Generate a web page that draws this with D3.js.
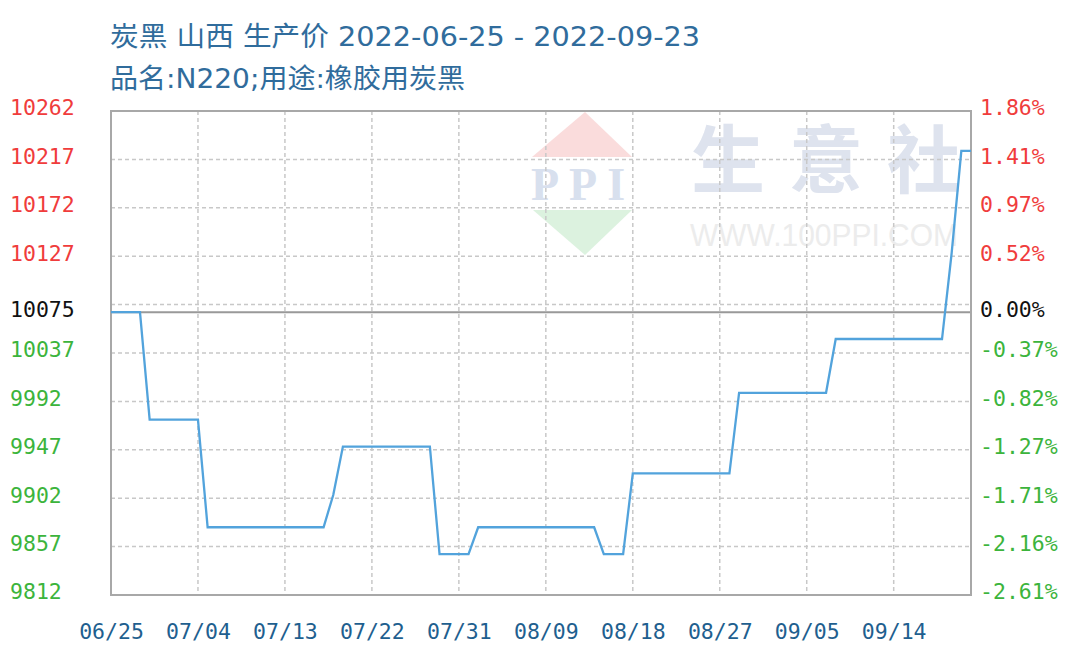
<!DOCTYPE html>
<html>
<head>
<meta charset="utf-8">
<script src="https://cdn.jsdelivr.net/npm/d3@7"></script>
<style>
  body { margin: 0; background: #fff; }
  svg { display: block; }
  .tick text { font-family: "DejaVu Sans Mono", "Liberation Mono", monospace; }
</style>
</head>
<body>
<svg id="chart" width="1080" height="661"></svg>
<script>
// data
var dates = ["2022-06-25","2022-06-28","2022-06-29","2022-07-04","2022-07-05","2022-07-17",
             "2022-07-18","2022-07-19","2022-07-28","2022-07-29","2022-08-01","2022-08-02",
             "2022-08-14","2022-08-15","2022-08-17","2022-08-18","2022-08-28","2022-08-29",
             "2022-09-07","2022-09-08","2022-09-19","2022-09-20","2022-09-21","2022-09-22"];
var prices = [10075,10075,9975,9975,9875,9875,
              9905,9950,9950,9850,9850,9875,
              9875,9850,9850,9925,9925,10000,
              10000,10050,10050,10130,10225,10225];

var basePrice = 10075;
var leftTicks = [10262,10217,10172,10127,10075,10037,9992,9947,9902,9857,9812];
var rightTicks = ["1.86%","1.41%","0.97%","0.52%","0.00%","-0.37%","-0.82%","-1.27%","-1.71%","-2.16%","-2.61%"];
var gridValues = [9857,9902,9947,9992,10037,10082,10127,10172,10217];
var xTickDates = ["2022-06-25","2022-07-04","2022-07-13","2022-07-22","2022-07-31",
                  "2022-08-09","2022-08-18","2022-08-27","2022-09-05","2022-09-14"];
var xTickLabels = ["06/25","07/04","07/13","07/22","07/31","08/09","08/18","08/27","09/05","09/14"];

var title1 = "炭黑 山西 生产价 2022-06-25 - 2022-09-23";
var title2 = "品名:N220;用途:橡胶用炭黑";
var markChars = ["生","意","社"];

var parse = d3.utcParse("%Y-%m-%d");
var data = dates.map(function(d, i) { return { date: parse(d), price: prices[i] }; });

// plot box (window.top is read-only, so no "top" here)
var pLeft = 111, pRight = 971, pTop = 111, pBottom = 595;

var x = d3.scaleUtc()
  .domain([parse("2022-06-25"), parse("2022-09-22")])
  .range([pLeft, pRight]);

var y = d3.scaleLinear()
  .domain([9812, 10262])
  .range([pBottom, pTop]);

var svg = d3.select("#chart");

// titles
var titleFont = "'DejaVu Sans','Noto Sans CJK SC',sans-serif";
svg.append("text")
  .attr("x", 110).attr("y", 46)
  .attr("font-family", titleFont)
  .attr("font-size", 27)
  .attr("textLength", 590)
  .attr("lengthAdjust", "spacingAndGlyphs")
  .attr("fill", "#306c9c")
  .text(title1);

svg.append("text")
  .attr("x", 110).attr("y", 88)
  .attr("font-family", titleFont)
  .attr("font-size", 27)
  .attr("textLength", 355)
  .attr("lengthAdjust", "spacingAndGlyphs")
  .attr("fill", "#306c9c")
  .text(title2);

// watermark
var wm = svg.append("g");
wm.append("path")
  .attr("d", "M532,157 L585,112 L632,157 Z")
  .attr("fill", "#fadcdc");
wm.append("path")
  .attr("d", "M533,210 L632,210 L585,255 Z")
  .attr("fill", "#dcf2df");
wm.append("text")
  .attr("x", 583).attr("y", 200)
  .attr("text-anchor", "middle")
  .attr("font-family", "'Liberation Serif',serif")
  .attr("font-weight", "bold")
  .attr("font-size", 46)
  .attr("letter-spacing", 10)
  .attr("fill", "#d8e0ee")
  .text("PPI");
wm.selectAll(".markchar")
  .data(markChars)
  .enter()
  .append("text")
  .attr("x", function(d, i) { return 728 + i * 98; })
  .attr("y", 187)
  .attr("text-anchor", "middle")
  .attr("font-family", "'Noto Sans CJK SC',sans-serif")
  .attr("font-weight", "bold")
  .attr("font-size", 74)
  .attr("fill", "#dee3ee")
  .text(function(d) { return d; });
wm.append("text")
  .attr("x", 690).attr("y", 246)
  .attr("font-family", "'Liberation Sans',Arial,sans-serif")
  .attr("font-size", 32)
  .attr("textLength", 268)
  .attr("lengthAdjust", "spacingAndGlyphs")
  .attr("fill", "#ececec")
  .text("WWW.100PPI.COM");

// grid
var grid = svg.append("g")
  .attr("stroke", "#c8c8c8")
  .attr("stroke-width", 1.5)
  .attr("stroke-dasharray", "4,3");

grid.selectAll(".hgrid")
  .data(gridValues)
  .enter()
  .append("line")
  .attr("x1", pLeft).attr("x2", pRight)
  .attr("y1", function(d) { return y(d); })
  .attr("y2", function(d) { return y(d); });

grid.selectAll(".vgrid")
  .data(xTickDates.slice(1))
  .enter()
  .append("line")
  .attr("y1", pTop).attr("y2", pBottom)
  .attr("x1", function(d) { return x(parse(d)); })
  .attr("x2", function(d) { return x(parse(d)); });

// base price line
svg.append("line")
  .attr("x1", pLeft).attr("x2", pRight)
  .attr("y1", y(basePrice)).attr("y2", y(basePrice))
  .attr("stroke", "#999")
  .attr("stroke-width", 2);

// border
svg.append("rect")
  .attr("x", pLeft).attr("y", pTop)
  .attr("width", pRight - pLeft).attr("height", pBottom - pTop)
  .attr("fill", "none")
  .attr("stroke", "#a8a8a8")
  .attr("stroke-width", 2);

// price line
var line = d3.line()
  .x(function(d) { return x(d.date); })
  .y(function(d) { return y(d.price); });

svg.append("path")
  .datum(data)
  .attr("d", line)
  .attr("fill", "none")
  .attr("stroke", "#52a3dc")
  .attr("stroke-width", 2.3);

function tickColor(v) {
  if (v > basePrice) return "#f03c3c";
  if (v < basePrice) return "#3cb43c";
  return "#111";
}

// left axis
var yAxisL = d3.axisLeft(y)
  .tickValues(leftTicks)
  .tickSize(0)
  .tickPadding(0)
  .tickFormat(function(d) { return d; });

svg.append("g")
  .attr("transform", "translate(10,-3)")
  .call(yAxisL)
  .call(function(g) { g.select(".domain").remove(); })
  .selectAll("text")
  .attr("text-anchor", "start")
  .attr("x", 0)
  .attr("font-size", 21.5)
  .attr("fill", function(d) { return tickColor(d); });

// right axis
var yAxisR = d3.axisRight(y)
  .tickValues(leftTicks)
  .tickSize(0)
  .tickPadding(0)
  .tickFormat(function(d, i) { return rightTicks[i]; });

svg.append("g")
  .attr("transform", "translate(980,-3)")
  .call(yAxisR)
  .call(function(g) { g.select(".domain").remove(); })
  .selectAll("text")
  .attr("font-size", 21.5)
  .attr("fill", function(d) { return tickColor(d); });

// x axis
var xAxis = d3.axisBottom(x)
  .tickValues(xTickDates.map(parse))
  .tickSize(0)
  .tickPadding(0)
  .tickFormat(function(d, i) { return xTickLabels[i]; });

svg.append("g")
  .attr("transform", "translate(0,624)")
  .call(xAxis)
  .call(function(g) { g.select(".domain").remove(); })
  .selectAll("text")
  .attr("font-size", 21.5)
  .attr("fill", "#1f5f8f");
</script>
</body>
</html>
